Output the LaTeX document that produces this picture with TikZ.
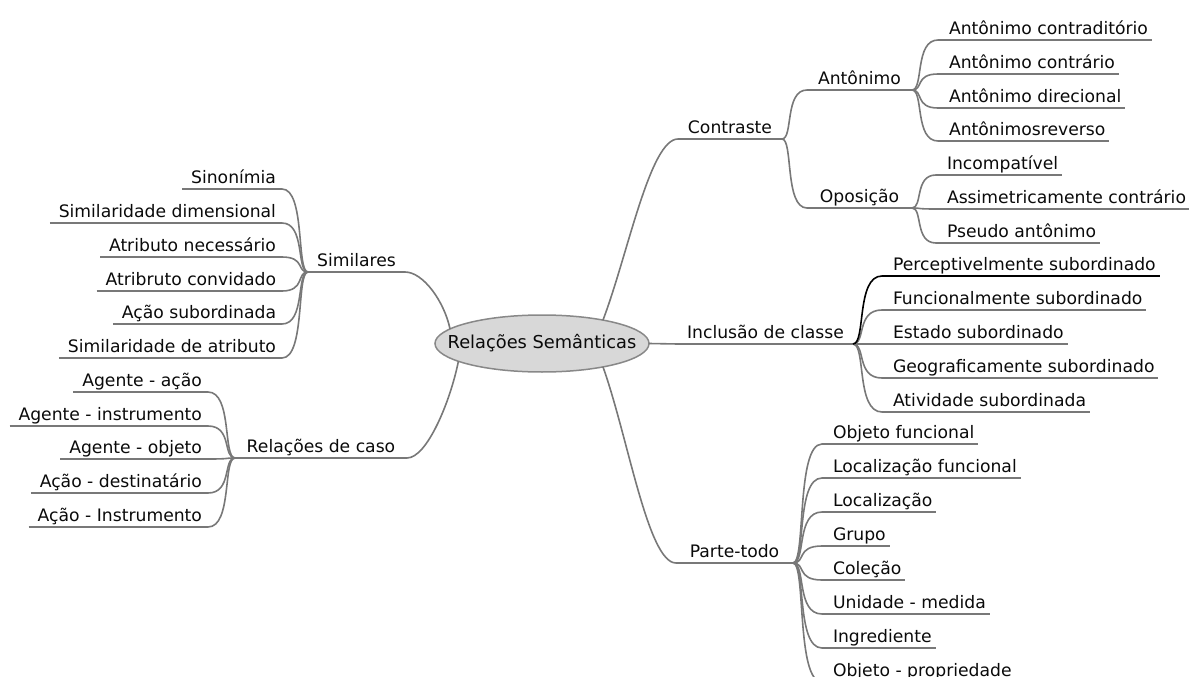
\documentclass[tikz,border=0pt]{standalone}
\usepackage{fontspec}
\setmainfont{DejaVu Sans}
\usetikzlibrary{shapes.geometric,calc}
\definecolor{branch}{HTML}{787878}
\definecolor{rootfill}{HTML}{D8D8D8}
\definecolor{rootline}{HTML}{888888}
\definecolor{ink}{HTML}{0A0A0A}

\begin{document}
\begin{tikzpicture}[x=1pt,y=-1pt,
  every node/.style={font=\fontsize{17.2}{20}\selectfont, text=ink},
  root/.style={ellipse, draw=rootline, line width=1.5pt, fill=rootfill,
    minimum width=214pt, minimum height=57pt, inner sep=0pt, outer sep=0pt},
  topic/.style={inner sep=0pt, outer sep=0pt, text depth=5.5pt, anchor=south west},
  rleaf/.style={inner sep=0pt, outer sep=0pt, text depth=5.5pt, anchor=south west,
    execute at begin node={\hspace*{11pt}}, execute at end node={\hspace*{4pt}}},
  lleaf/.style={inner sep=0pt, outer sep=0pt, text depth=5.5pt, anchor=south east,
    execute at begin node={\hspace*{9pt}}, execute at end node={\hspace*{6pt}}},
  link/.style={draw=branch, line width=1.6pt},
  hot/.style={draw=black, line width=1.6pt},
  twig/.style={to path={let \p1=(\tikztostart), \p2=(\tikztotarget) in
    .. controls ({\x1+0.45*(\x2-\x1)},\y1) and ({\x1+0.1*(\x2-\x1)},\y2) .. (\tikztotarget)}},
]
\useasboundingbox (0,0) rectangle (1189,677);

% central topic
\node[root] (root) at (542,343.5) {\makebox[0pt]{\fontsize{17.8}{20}\selectfont Relações Semânticas}};

% main branches
\node[topic, minimum width=104pt] (contraste) at (678,139) {Contraste};
\node[topic, minimum width=105pt] (anto) at (807,90) {Antônimo};
\node[topic, minimum width=105pt] (opos) at (807,208) {Oposição};
\node[topic, minimum width=175pt] (incl) at (678,344) {Inclusão de classe};
\node[topic, minimum width=117pt] (parte) at (676,563) {Parte-todo};
\node[topic, minimum width=97pt] (simil) at (308,272) {Similares};
\node[topic, minimum width=172pt] (caso) at (235,458) {Relações de caso};

% leaves on the right
\node[rleaf] (a1) at (938,40) {Antônimo contraditório};
\node[rleaf] (a2) at (938,74) {Antônimo contrário};
\node[rleaf] (a3) at (938,108) {Antônimo direcional};
\node[rleaf] (a4) at (938,141) {Antônimosreverso};
\node[rleaf] (o1) at (936,175) {Incompatível};
\node[rleaf] (o2) at (936,209) {Assimetricamente contrário};
\node[rleaf] (o3) at (936,243) {Pseudo antônimo};
\node[rleaf] (i1) at (882,276) {Perceptivelmente subordinado};
\node[rleaf] (i2) at (882,310) {Funcionalmente subordinado};
\node[rleaf] (i3) at (882,344) {Estado subordinado};
\node[rleaf] (i4) at (882,378) {Geograficamente subordinado};
\node[rleaf] (i5) at (882,412) {Atividade subordinada};
\node[rleaf] (p1) at (822,444) {Objeto funcional};
\node[rleaf] (p2) at (822,478) {Localização funcional};
\node[rleaf] (p3) at (822,512) {Localização};
\node[rleaf] (p4) at (822,546) {Grupo};
\node[rleaf] (p5) at (822,580) {Coleção};
\node[rleaf] (p6) at (822,614) {Unidade - medida};
\node[rleaf] (p7) at (822,648) {Ingrediente};
\node[rleaf] (p8) at (822,682) {Objeto - propriedade};

% leaves on the left
\node[lleaf] (s1) at (282,189) {Sinonímia};
\node[lleaf] (s2) at (282,223) {Similaridade dimensional};
\node[lleaf] (s3) at (282,257) {Atributo necessário};
\node[lleaf] (s4) at (282,291) {Atribruto convidado};
\node[lleaf] (s5) at (282,324) {Ação subordinada};
\node[lleaf] (s6) at (282,358) {Similaridade de atributo};
\node[lleaf] (c1) at (208,392) {Agente - ação};
\node[lleaf] (c2) at (208,426) {Agente - instrumento};
\node[lleaf] (c3) at (208,459) {Agente - objeto};
\node[lleaf] (c4) at (208,493) {Ação - destinatário};
\node[lleaf] (c5) at (208,527) {Ação - Instrumento};

% underlines
\foreach \n in {contraste,anto,opos,incl,parte,simil,caso,
  a1,a2,a3,a4,o1,o2,o3,i2,i3,i4,i5,p1,p2,p3,p4,p5,p6,p7,p8,
  s1,s2,s3,s4,s5,s6,c1,c2,c3,c4,c5}
  \draw[link] (\n.south west) -- (\n.south east);
\draw[hot] (i1.south west) -- (i1.south east);

% from the central topic
\draw[link] (root.east) -- (incl.south west);
\draw[link] (root.21) .. controls +(25,-66) and +(-28,0) .. (contraste.south west);
\draw[link] (root.-21) .. controls +(25,70) and +(-28,0) .. (parte.south west);
\draw[link] (root.171) .. controls +(-6,-28) and +(18,0) .. (simil.south east);
\draw[link] (root.192) .. controls +(-8,40) and +(20,0) .. (caso.south east);

% sub-branches
\foreach \c in {anto,opos} \draw[link] (contraste.south east) to[twig] (\c.south west);
\foreach \c in {a1,a2,a3,a4} \draw[link] (anto.south east) to[twig] (\c.south west);
\foreach \c in {o1,o2,o3} \draw[link] (opos.south east) to[twig] (\c.south west);
\foreach \c in {i2,i3,i4,i5} \draw[link] (incl.south east) to[twig] (\c.south west);
\draw[hot] (incl.south east) to[twig] (i1.south west);
\foreach \c in {p1,p2,p3,p4,p5,p6,p7,p8} \draw[link] (parte.south east) to[twig] (\c.south west);
\foreach \c in {s1,s2,s3,s4,s5,s6} \draw[link] (simil.south west) to[twig] (\c.south east);
\foreach \c in {c1,c2,c3,c4,c5} \draw[link] (caso.south west) to[twig] (\c.south east);
\end{tikzpicture}
\end{document}
